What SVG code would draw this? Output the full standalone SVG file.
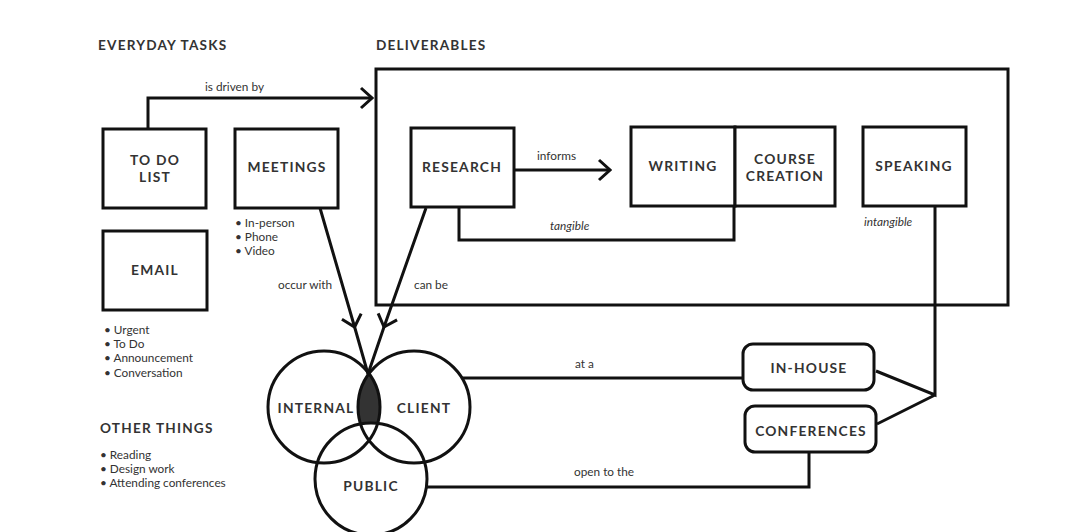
<svg xmlns="http://www.w3.org/2000/svg" width="1080" height="532" viewBox="0 0 1080 532">
<defs>
<style>
.box{fill:#fff;stroke:#111;stroke-width:3}
.ln{fill:none;stroke:#111;stroke-width:3}
.h{font-family:Lato,"Liberation Sans",sans-serif;font-weight:700;font-size:13.6px;letter-spacing:1.2px;fill:#333}
.lb{font-family:Lato,"Liberation Sans",sans-serif;font-weight:700;font-size:13.8px;letter-spacing:1.2px;fill:#333;text-anchor:middle}
.s{font-family:Lato,"Liberation Sans",sans-serif;font-size:11.8px;fill:#333}
.i{font-family:Lato,"Liberation Sans",sans-serif;font-size:11.8px;font-style:italic;fill:#333}
</style>
<marker id="chev" viewBox="-14 -12 16 24" markerWidth="16" markerHeight="24" markerUnits="userSpaceOnUse" refX="0" refY="0" orient="auto">
<path d="M-11,-10 L0,0 L-11,10" fill="none" stroke="#111" stroke-width="3"/>
</marker>
</defs>
<rect width="1080" height="532" fill="#fff"/>

<text class="h" x="98" y="50">EVERYDAY TASKS</text>
<text class="h" x="376" y="50">DELIVERABLES</text>
<text class="h" x="100" y="433">OTHER THINGS</text>

<g id="deliverables">
<rect class="box" x="376" y="69" width="632" height="236" fill="none"/>
</g>

<g id="connectors">
<path class="ln" d="M148,129 V98 H372" marker-end="url(#chev)"/>
<text class="s" x="205" y="91">is driven by</text>
<path class="ln" d="M514,170 H610" marker-end="url(#chev)"/>
<text class="s" x="537" y="160">informs</text>
<path class="ln" d="M459,207 V240 H734 V206"/>
<text class="i" x="550" y="230">tangible</text>
<text class="i" x="864" y="226">intangible</text>
<path class="ln" d="M935,206 V395 L876,371 M935,395 L877,424"/>
<path class="ln" d="M320,208 L354.6,327 L368,374" marker-mid="url(#chev)"/>
<path class="ln" d="M426,208 L384,327 L368,374" marker-mid="url(#chev)"/>
<text class="s" x="278" y="289">occur with</text>
<text class="s" x="414" y="289">can be</text>
<path class="ln" d="M462,378 H743"/>
<text class="s" x="575" y="368">at a</text>
<path class="ln" d="M809,452 V487 H426"/>
<text class="s" x="574" y="476">open to the</text>
</g>

<g id="todo">
<rect class="box" x="103" y="129" width="103" height="79"/>
<text class="lb" x="155" y="165">TO DO</text>
<text class="lb" x="155" y="182">LIST</text>
</g>
<g id="meetings">
<rect class="box" x="235" y="129" width="103" height="79"/>
<text class="lb" x="287" y="172">MEETINGS</text>
<text class="s" x="235" y="227">• In-person</text>
<text class="s" x="235" y="241">• Phone</text>
<text class="s" x="235" y="255">• Video</text>
</g>
<g id="email">
<rect class="box" x="103" y="231" width="104" height="79"/>
<text class="lb" x="155" y="275">EMAIL</text>
<text class="s" x="104" y="334">• Urgent</text>
<text class="s" x="104" y="348">• To Do</text>
<text class="s" x="104" y="362">• Announcement</text>
<text class="s" x="104" y="377">• Conversation</text>
</g>
<g id="other">
<text class="s" x="100" y="459">• Reading</text>
<text class="s" x="100" y="473">• Design work</text>
<text class="s" x="100" y="487">• Attending conferences</text>
</g>
<g id="research">
<rect class="box" x="411" y="128" width="103" height="79"/>
<text class="lb" x="462" y="172">RESEARCH</text>
</g>
<g id="writing">
<rect class="box" x="631" y="127" width="104" height="79"/>
<text class="lb" x="683" y="171">WRITING</text>
</g>
<g id="course">
<rect class="box" x="735" y="127" width="100" height="79"/>
<text class="lb" x="785" y="164">COURSE</text>
<text class="lb" x="785" y="181">CREATION</text>
</g>
<g id="speaking">
<rect class="box" x="863" y="127" width="103" height="79"/>
<text class="lb" x="914" y="171">SPEAKING</text>
</g>
<g id="inhouse">
<rect class="box" x="743" y="344" width="131" height="46" rx="10"/>
<text class="lb" x="809" y="373">IN-HOUSE</text>
</g>
<g id="conferences">
<rect class="box" x="745" y="406" width="131" height="46" rx="10"/>
<text class="lb" x="811" y="436">CONFERENCES</text>
</g>
<g id="venn">
<path d="M369,373.7 A56,56 0 0 1 369,440.3 A56,56 0 0 1 369,373.7 Z" fill="#333"/>
<circle cx="371" cy="479" r="56" fill="#fff"/>
<circle class="ln" cx="324" cy="407" r="56"/>
<circle class="ln" cx="414" cy="407" r="56"/>
<circle class="ln" cx="371" cy="479" r="56"/>
<text class="lb" x="316" y="413">INTERNAL</text>
<text class="lb" x="424" y="413">CLIENT</text>
<text class="lb" x="371" y="491">PUBLIC</text>
</g>
</svg>
